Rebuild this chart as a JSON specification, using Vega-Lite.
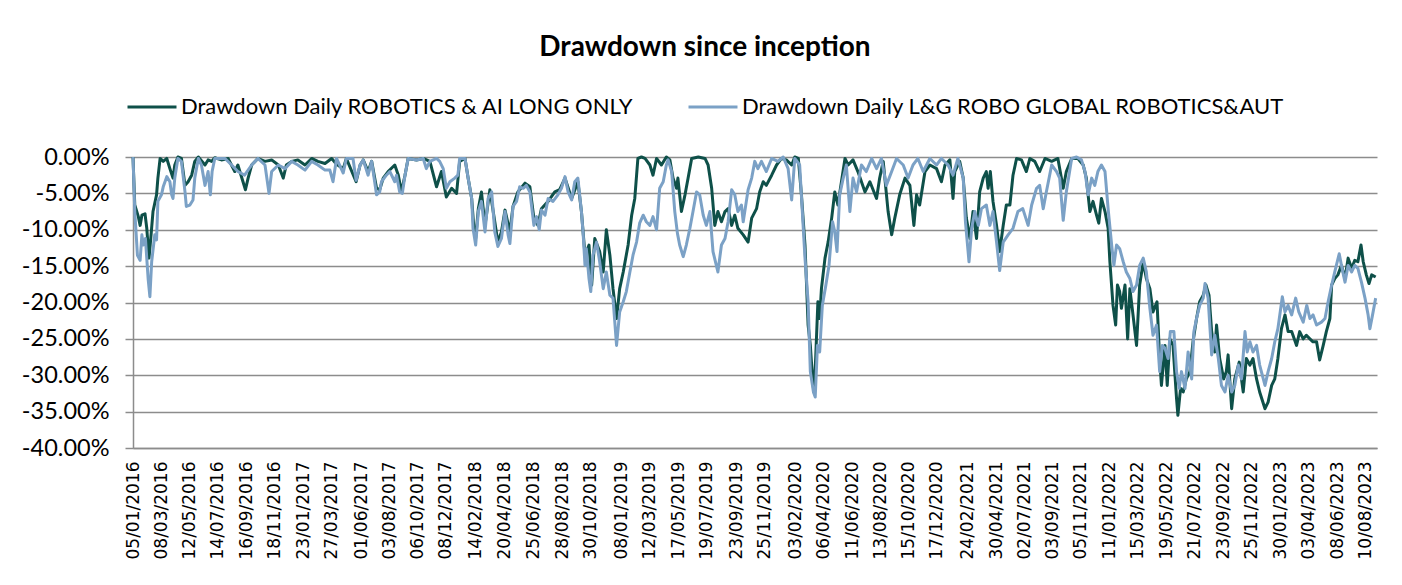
{
"$schema": "https://vega.github.io/schema/vega-lite/v6.json",
"width": 1244, "height": 291,
"autosize": {"type": "none"},
"padding": {"left": 133, "top": 157, "right": 25, "bottom": 137},
"background": "white",
"title": {"text": "Drawdown since inception", "font": "Lato", "fontSize": 28, "fontWeight": "bold", "color": "black", "anchor": "middle", "dx": -50, "offset": 19},
"datasets": {
"a": [
{"d":"2016-01-05","v":0},{"d":"2016-01-09","v":-0.066},{"d":"2016-01-17","v":-0.082},{"d":"2016-01-21","v":-0.094},{"d":"2016-01-25","v":-0.080},{"d":"2016-02-01","v":-0.078},{"d":"2016-02-05","v":-0.098},{"d":"2016-02-10","v":-0.139},{"d":"2016-02-14","v":-0.112},{"d":"2016-02-19","v":-0.075},{"d":"2016-02-27","v":-0.052},{"d":"2016-03-01","v":-0.029},{"d":"2016-03-06","v":-0.002},{"d":"2016-03-13","v":-0.006},{"d":"2016-03-21","v":-0.002},{"d":"2016-03-28","v":-0.016},{"d":"2016-04-04","v":-0.029},{"d":"2016-04-08","v":-0.011},{"d":"2016-04-15","v":0},{"d":"2016-04-23","v":-0.002},{"d":"2016-05-01","v":-0.039},{"d":"2016-05-08","v":-0.034},{"d":"2016-05-16","v":-0.025},{"d":"2016-05-23","v":-0.006},{"d":"2016-05-31","v":0},{"d":"2016-06-15","v":-0.011},{"d":"2016-06-22","v":-0.004},{"d":"2016-06-30","v":-0.006},{"d":"2016-07-07","v":-0.001},{"d":"2016-07-22","v":-0.004},{"d":"2016-08-06","v":-0.002},{"d":"2016-08-21","v":-0.020},{"d":"2016-08-28","v":-0.011},{"d":"2016-09-14","v":-0.045},{"d":"2016-09-20","v":-0.029},{"d":"2016-09-28","v":-0.011},{"d":"2016-10-12","v":-0.002},{"d":"2016-10-28","v":-0.006},{"d":"2016-11-12","v":-0.004},{"d":"2016-11-27","v":-0.011},{"d":"2016-12-08","v":-0.029},{"d":"2016-12-15","v":-0.011},{"d":"2016-12-27","v":-0.006},{"d":"2017-01-10","v":-0.004},{"d":"2017-01-26","v":-0.011},{"d":"2017-02-10","v":-0.002},{"d":"2017-02-24","v":-0.006},{"d":"2017-03-12","v":-0.009},{"d":"2017-03-27","v":-0.002},{"d":"2017-04-07","v":-0.010},{"d":"2017-04-22","v":-0.016},{"d":"2017-04-29","v":-0.002},{"d":"2017-05-21","v":-0.034},{"d":"2017-05-30","v":-0.011},{"d":"2017-06-06","v":-0.004},{"d":"2017-06-17","v":-0.020},{"d":"2017-06-25","v":-0.006},{"d":"2017-07-06","v":-0.043},{"d":"2017-07-13","v":-0.045},{"d":"2017-07-21","v":-0.029},{"d":"2017-08-01","v":-0.020},{"d":"2017-08-16","v":-0.011},{"d":"2017-08-24","v":-0.025},{"d":"2017-08-31","v":-0.048},{"d":"2017-09-08","v":-0.025},{"d":"2017-09-15","v":-0.002},{"d":"2017-10-04","v":-0.004},{"d":"2017-10-19","v":-0.002},{"d":"2017-11-03","v":-0.006},{"d":"2017-11-18","v":-0.041},{"d":"2017-11-29","v":-0.020},{"d":"2017-12-10","v":-0.055},{"d":"2017-12-22","v":-0.043},{"d":"2018-01-02","v":-0.050},{"d":"2018-01-09","v":-0.006},{"d":"2018-01-21","v":-0.002},{"d":"2018-01-28","v":-0.029},{"d":"2018-02-05","v":-0.057},{"d":"2018-02-10","v":-0.098},{"d":"2018-02-14","v":-0.112},{"d":"2018-02-20","v":-0.071},{"d":"2018-02-27","v":-0.048},{"d":"2018-03-07","v":-0.094},{"d":"2018-03-18","v":-0.045},{"d":"2018-03-29","v":-0.089},{"d":"2018-04-05","v":-0.117},{"d":"2018-04-13","v":-0.103},{"d":"2018-04-21","v":-0.073},{"d":"2018-05-02","v":-0.103},{"d":"2018-05-09","v":-0.068},{"d":"2018-05-20","v":-0.048},{"d":"2018-06-05","v":-0.036},{"d":"2018-06-16","v":-0.041},{"d":"2018-06-25","v":-0.084},{"d":"2018-07-04","v":-0.094},{"d":"2018-07-12","v":-0.071},{"d":"2018-07-27","v":-0.061},{"d":"2018-08-11","v":-0.048},{"d":"2018-08-22","v":-0.045},{"d":"2018-09-03","v":-0.029},{"d":"2018-09-18","v":-0.057},{"d":"2018-10-02","v":-0.034},{"d":"2018-10-10","v":-0.075},{"d":"2018-10-18","v":-0.135},{"d":"2018-10-27","v":-0.121},{"d":"2018-11-02","v":-0.176},{"d":"2018-11-09","v":-0.112},{"d":"2018-11-20","v":-0.130},{"d":"2018-11-28","v":-0.158},{"d":"2018-12-05","v":-0.100},{"d":"2018-12-13","v":-0.135},{"d":"2018-12-20","v":-0.181},{"d":"2018-12-28","v":-0.222},{"d":"2019-01-04","v":-0.181},{"d":"2019-01-12","v":-0.158},{"d":"2019-01-23","v":-0.121},{"d":"2019-01-31","v":-0.080},{"d":"2019-02-07","v":-0.057},{"d":"2019-02-14","v":-0.002},{"d":"2019-02-22","v":0},{"d":"2019-03-02","v":-0.002},{"d":"2019-03-13","v":-0.011},{"d":"2019-03-20","v":-0.025},{"d":"2019-03-28","v":-0.002},{"d":"2019-04-08","v":-0.011},{"d":"2019-04-19","v":0},{"d":"2019-04-27","v":-0.004},{"d":"2019-05-04","v":-0.029},{"d":"2019-05-12","v":-0.043},{"d":"2019-05-15","v":-0.029},{"d":"2019-05-23","v":-0.075},{"d":"2019-05-31","v":-0.052},{"d":"2019-06-07","v":-0.029},{"d":"2019-06-15","v":-0.002},{"d":"2019-06-30","v":0},{"d":"2019-07-15","v":-0.002},{"d":"2019-07-22","v":-0.011},{"d":"2019-07-30","v":-0.043},{"d":"2019-08-06","v":-0.094},{"d":"2019-08-13","v":-0.075},{"d":"2019-08-21","v":-0.089},{"d":"2019-08-29","v":-0.075},{"d":"2019-09-05","v":-0.071},{"d":"2019-09-13","v":-0.094},{"d":"2019-09-20","v":-0.080},{"d":"2019-09-27","v":-0.098},{"d":"2019-10-09","v":-0.107},{"d":"2019-10-20","v":-0.117},{"d":"2019-10-28","v":-0.084},{"d":"2019-11-08","v":-0.071},{"d":"2019-11-15","v":-0.048},{"d":"2019-11-23","v":-0.034},{"d":"2019-11-30","v":-0.039},{"d":"2019-12-12","v":-0.025},{"d":"2019-12-23","v":-0.011},{"d":"2020-01-03","v":-0.002},{"d":"2020-01-14","v":-0.004},{"d":"2020-01-26","v":-0.011},{"d":"2020-02-02","v":0},{"d":"2020-02-10","v":-0.002},{"d":"2020-02-17","v":-0.052},{"d":"2020-02-25","v":-0.121},{"d":"2020-03-03","v":-0.231},{"d":"2020-03-08","v":-0.259},{"d":"2020-03-13","v":-0.305},{"d":"2020-03-16","v":-0.323},{"d":"2020-03-20","v":-0.277},{"d":"2020-03-25","v":-0.199},{"d":"2020-03-29","v":-0.222},{"d":"2020-04-02","v":-0.181},{"d":"2020-04-10","v":-0.139},{"d":"2020-04-17","v":-0.117},{"d":"2020-04-25","v":-0.084},{"d":"2020-05-02","v":-0.048},{"d":"2020-05-09","v":-0.066},{"d":"2020-05-17","v":-0.034},{"d":"2020-05-25","v":-0.002},{"d":"2020-06-01","v":-0.011},{"d":"2020-06-12","v":-0.004},{"d":"2020-06-23","v":-0.020},{"d":"2020-07-09","v":-0.048},{"d":"2020-07-20","v":-0.034},{"d":"2020-08-04","v":-0.057},{"d":"2020-08-11","v":-0.029},{"d":"2020-08-19","v":-0.006},{"d":"2020-08-30","v":-0.075},{"d":"2020-09-07","v":-0.107},{"d":"2020-09-14","v":-0.084},{"d":"2020-09-25","v":-0.052},{"d":"2020-10-07","v":-0.029},{"d":"2020-10-18","v":-0.039},{"d":"2020-10-27","v":-0.094},{"d":"2020-11-02","v":-0.052},{"d":"2020-11-09","v":-0.066},{"d":"2020-11-21","v":-0.020},{"d":"2020-12-02","v":-0.011},{"d":"2020-12-17","v":-0.016},{"d":"2020-12-28","v":-0.034},{"d":"2021-01-05","v":-0.011},{"d":"2021-01-16","v":-0.004},{"d":"2021-01-23","v":-0.057},{"d":"2021-01-27","v":-0.020},{"d":"2021-02-07","v":-0.006},{"d":"2021-02-15","v":-0.029},{"d":"2021-02-22","v":-0.084},{"d":"2021-03-02","v":-0.112},{"d":"2021-03-09","v":-0.075},{"d":"2021-03-17","v":-0.112},{"d":"2021-03-24","v":-0.048},{"d":"2021-04-01","v":-0.029},{"d":"2021-04-08","v":-0.020},{"d":"2021-04-12","v":-0.043},{"d":"2021-04-17","v":-0.020},{"d":"2021-04-23","v":-0.061},{"d":"2021-05-01","v":-0.094},{"d":"2021-05-08","v":-0.130},{"d":"2021-05-16","v":-0.094},{"d":"2021-05-23","v":-0.066},{"d":"2021-05-31","v":-0.066},{"d":"2021-06-07","v":-0.025},{"d":"2021-06-15","v":-0.002},{"d":"2021-06-26","v":-0.004},{"d":"2021-07-07","v":-0.020},{"d":"2021-07-15","v":-0.002},{"d":"2021-07-26","v":-0.006},{"d":"2021-08-06","v":-0.020},{"d":"2021-08-18","v":-0.002},{"d":"2021-09-02","v":-0.006},{"d":"2021-09-16","v":-0.002},{"d":"2021-09-28","v":-0.043},{"d":"2021-10-05","v":-0.020},{"d":"2021-10-17","v":-0.002},{"d":"2021-10-31","v":-0.002},{"d":"2021-11-12","v":-0.011},{"d":"2021-11-19","v":-0.029},{"d":"2021-11-27","v":-0.075},{"d":"2021-12-04","v":-0.061},{"d":"2021-12-12","v":-0.080},{"d":"2021-12-17","v":-0.091},{"d":"2021-12-23","v":-0.057},{"d":"2021-12-31","v":-0.075},{"d":"2022-01-07","v":-0.098},{"d":"2022-01-11","v":-0.144},{"d":"2022-01-18","v":-0.204},{"d":"2022-01-24","v":-0.231},{"d":"2022-01-28","v":-0.176},{"d":"2022-02-02","v":-0.185},{"d":"2022-02-06","v":-0.208},{"d":"2022-02-14","v":-0.176},{"d":"2022-02-20","v":-0.250},{"d":"2022-02-25","v":-0.181},{"d":"2022-03-04","v":-0.217},{"d":"2022-03-12","v":-0.259},{"d":"2022-03-19","v":-0.176},{"d":"2022-03-27","v":-0.144},{"d":"2022-04-03","v":-0.167},{"d":"2022-04-11","v":-0.181},{"d":"2022-04-18","v":-0.213},{"d":"2022-04-27","v":-0.199},{"d":"2022-05-03","v":-0.277},{"d":"2022-05-07","v":-0.314},{"d":"2022-05-15","v":-0.259},{"d":"2022-05-20","v":-0.314},{"d":"2022-05-26","v":-0.250},{"d":"2022-06-02","v":-0.259},{"d":"2022-06-10","v":-0.332},{"d":"2022-06-13","v":-0.355},{"d":"2022-06-19","v":-0.318},{"d":"2022-06-25","v":-0.323},{"d":"2022-07-02","v":-0.305},{"d":"2022-07-10","v":-0.295},{"d":"2022-07-17","v":-0.254},{"d":"2022-07-25","v":-0.222},{"d":"2022-08-01","v":-0.199},{"d":"2022-08-09","v":-0.190},{"d":"2022-08-15","v":-0.176},{"d":"2022-08-22","v":-0.190},{"d":"2022-08-28","v":-0.240},{"d":"2022-09-04","v":-0.268},{"d":"2022-09-08","v":-0.231},{"d":"2022-09-15","v":-0.277},{"d":"2022-09-24","v":-0.305},{"d":"2022-09-30","v":-0.295},{"d":"2022-10-04","v":-0.272},{"d":"2022-10-12","v":-0.346},{"d":"2022-10-19","v":-0.305},{"d":"2022-10-29","v":-0.282},{"d":"2022-11-07","v":-0.323},{"d":"2022-11-14","v":-0.277},{"d":"2022-11-22","v":-0.286},{"d":"2022-11-29","v":-0.277},{"d":"2022-12-07","v":-0.305},{"d":"2022-12-14","v":-0.323},{"d":"2022-12-26","v":-0.346},{"d":"2023-01-02","v":-0.337},{"d":"2023-01-10","v":-0.314},{"d":"2023-01-17","v":-0.305},{"d":"2023-01-24","v":-0.277},{"d":"2023-02-01","v":-0.236},{"d":"2023-02-09","v":-0.217},{"d":"2023-02-16","v":-0.240},{"d":"2023-02-24","v":-0.240},{"d":"2023-03-07","v":-0.259},{"d":"2023-03-14","v":-0.240},{"d":"2023-03-22","v":-0.250},{"d":"2023-03-29","v":-0.245},{"d":"2023-04-06","v":-0.250},{"d":"2023-04-13","v":-0.254},{"d":"2023-04-21","v":-0.254},{"d":"2023-04-28","v":-0.279},{"d":"2023-05-06","v":-0.259},{"d":"2023-05-13","v":-0.240},{"d":"2023-05-21","v":-0.222},{"d":"2023-05-25","v":-0.176},{"d":"2023-06-01","v":-0.167},{"d":"2023-06-08","v":-0.162},{"d":"2023-06-16","v":-0.149},{"d":"2023-06-24","v":-0.167},{"d":"2023-07-01","v":-0.139},{"d":"2023-07-09","v":-0.153},{"d":"2023-07-16","v":-0.142},{"d":"2023-07-23","v":-0.144},{"d":"2023-07-30","v":-0.121},{"d":"2023-08-04","v":-0.144},{"d":"2023-08-11","v":-0.162},{"d":"2023-08-17","v":-0.174},{"d":"2023-08-23","v":-0.162},{"d":"2023-09-01","v":-0.165}
],
"b": [
{"d":"2016-01-05","v":0},{"d":"2016-01-09","v":-0.075},{"d":"2016-01-15","v":-0.135},{"d":"2016-01-21","v":-0.142},{"d":"2016-01-25","v":-0.107},{"d":"2016-01-28","v":-0.121},{"d":"2016-02-02","v":-0.112},{"d":"2016-02-08","v":-0.167},{"d":"2016-02-12","v":-0.192},{"d":"2016-02-16","v":-0.144},{"d":"2016-02-23","v":-0.107},{"d":"2016-02-27","v":-0.114},{"d":"2016-03-01","v":-0.061},{"d":"2016-03-09","v":-0.052},{"d":"2016-03-13","v":-0.041},{"d":"2016-03-21","v":-0.027},{"d":"2016-03-28","v":-0.034},{"d":"2016-04-01","v":-0.052},{"d":"2016-04-04","v":-0.057},{"d":"2016-04-08","v":-0.029},{"d":"2016-04-15","v":-0.002},{"d":"2016-04-23","v":-0.006},{"d":"2016-05-01","v":-0.048},{"d":"2016-05-04","v":-0.068},{"d":"2016-05-12","v":-0.066},{"d":"2016-05-19","v":-0.059},{"d":"2016-05-23","v":-0.029},{"d":"2016-05-31","v":-0.002},{"d":"2016-06-07","v":-0.011},{"d":"2016-06-15","v":-0.039},{"d":"2016-06-22","v":-0.020},{"d":"2016-06-27","v":-0.052},{"d":"2016-07-01","v":-0.020},{"d":"2016-07-07","v":-0.002},{"d":"2016-07-30","v":-0.002},{"d":"2016-08-14","v":-0.011},{"d":"2016-08-28","v":-0.020},{"d":"2016-09-12","v":-0.025},{"d":"2016-09-28","v":-0.011},{"d":"2016-10-12","v":-0.002},{"d":"2016-10-28","v":-0.011},{"d":"2016-11-06","v":-0.050},{"d":"2016-11-12","v":-0.020},{"d":"2016-11-27","v":-0.011},{"d":"2016-12-12","v":-0.016},{"d":"2016-12-27","v":-0.006},{"d":"2017-01-10","v":-0.011},{"d":"2017-01-26","v":-0.018},{"d":"2017-02-10","v":-0.006},{"d":"2017-02-24","v":-0.011},{"d":"2017-03-12","v":-0.018},{"d":"2017-03-23","v":-0.018},{"d":"2017-03-30","v":-0.034},{"d":"2017-04-07","v":-0.002},{"d":"2017-04-22","v":-0.022},{"d":"2017-04-29","v":-0.002},{"d":"2017-05-14","v":-0.002},{"d":"2017-05-21","v":-0.032},{"d":"2017-05-30","v":-0.011},{"d":"2017-06-06","v":-0.004},{"d":"2017-06-17","v":-0.025},{"d":"2017-06-25","v":-0.006},{"d":"2017-07-06","v":-0.052},{"d":"2017-07-13","v":-0.048},{"d":"2017-07-17","v":-0.034},{"d":"2017-07-28","v":-0.025},{"d":"2017-08-05","v":-0.020},{"d":"2017-08-16","v":-0.034},{"d":"2017-08-20","v":-0.025},{"d":"2017-08-27","v":-0.048},{"d":"2017-09-02","v":-0.050},{"d":"2017-09-08","v":-0.025},{"d":"2017-09-15","v":-0.002},{"d":"2017-10-04","v":-0.004},{"d":"2017-10-19","v":-0.002},{"d":"2017-10-26","v":-0.016},{"d":"2017-11-03","v":-0.006},{"d":"2017-11-18","v":-0.002},{"d":"2017-11-25","v":-0.006},{"d":"2017-12-03","v":-0.016},{"d":"2017-12-10","v":-0.043},{"d":"2017-12-18","v":-0.034},{"d":"2017-12-29","v":-0.029},{"d":"2018-01-05","v":-0.025},{"d":"2018-01-09","v":-0.002},{"d":"2018-01-21","v":-0.002},{"d":"2018-01-28","v":-0.029},{"d":"2018-02-05","v":-0.057},{"d":"2018-02-08","v":-0.098},{"d":"2018-02-14","v":-0.121},{"d":"2018-02-20","v":-0.075},{"d":"2018-02-27","v":-0.061},{"d":"2018-03-07","v":-0.103},{"d":"2018-03-14","v":-0.057},{"d":"2018-03-22","v":-0.048},{"d":"2018-03-29","v":-0.103},{"d":"2018-04-05","v":-0.123},{"d":"2018-04-13","v":-0.112},{"d":"2018-04-21","v":-0.075},{"d":"2018-04-28","v":-0.107},{"d":"2018-05-02","v":-0.119},{"d":"2018-05-09","v":-0.068},{"d":"2018-05-17","v":-0.061},{"d":"2018-05-24","v":-0.041},{"d":"2018-06-01","v":-0.043},{"d":"2018-06-08","v":-0.039},{"d":"2018-06-16","v":-0.048},{"d":"2018-06-25","v":-0.094},{"d":"2018-07-01","v":-0.082},{"d":"2018-07-07","v":-0.100},{"d":"2018-07-12","v":-0.073},{"d":"2018-07-20","v":-0.080},{"d":"2018-07-27","v":-0.057},{"d":"2018-08-07","v":-0.061},{"d":"2018-08-18","v":-0.052},{"d":"2018-08-26","v":-0.043},{"d":"2018-09-03","v":-0.027},{"d":"2018-09-10","v":-0.048},{"d":"2018-09-18","v":-0.059},{"d":"2018-09-25","v":-0.034},{"d":"2018-10-02","v":-0.029},{"d":"2018-10-10","v":-0.075},{"d":"2018-10-14","v":-0.107},{"d":"2018-10-18","v":-0.149},{"d":"2018-10-21","v":-0.126},{"d":"2018-10-27","v":-0.167},{"d":"2018-10-31","v":-0.185},{"d":"2018-11-05","v":-0.135},{"d":"2018-11-13","v":-0.117},{"d":"2018-11-20","v":-0.144},{"d":"2018-11-28","v":-0.181},{"d":"2018-12-05","v":-0.158},{"d":"2018-12-13","v":-0.190},{"d":"2018-12-20","v":-0.194},{"d":"2018-12-28","v":-0.259},{"d":"2019-01-04","v":-0.213},{"d":"2019-01-12","v":-0.199},{"d":"2019-01-19","v":-0.185},{"d":"2019-01-27","v":-0.158},{"d":"2019-02-03","v":-0.135},{"d":"2019-02-11","v":-0.117},{"d":"2019-02-18","v":-0.091},{"d":"2019-02-26","v":-0.080},{"d":"2019-03-05","v":-0.089},{"d":"2019-03-13","v":-0.094},{"d":"2019-03-20","v":-0.082},{"d":"2019-03-28","v":-0.100},{"d":"2019-04-04","v":-0.043},{"d":"2019-04-12","v":-0.034},{"d":"2019-04-19","v":-0.011},{"d":"2019-04-23","v":-0.004},{"d":"2019-05-01","v":-0.020},{"d":"2019-05-08","v":-0.075},{"d":"2019-05-14","v":-0.105},{"d":"2019-05-19","v":-0.121},{"d":"2019-05-27","v":-0.137},{"d":"2019-06-03","v":-0.121},{"d":"2019-06-11","v":-0.098},{"d":"2019-06-18","v":-0.075},{"d":"2019-06-26","v":-0.048},{"d":"2019-07-03","v":-0.052},{"d":"2019-07-11","v":-0.080},{"d":"2019-07-18","v":-0.094},{"d":"2019-07-26","v":-0.075},{"d":"2019-08-02","v":-0.130},{"d":"2019-08-13","v":-0.158},{"d":"2019-08-21","v":-0.121},{"d":"2019-08-29","v":-0.112},{"d":"2019-09-05","v":-0.089},{"d":"2019-09-13","v":-0.045},{"d":"2019-09-20","v":-0.052},{"d":"2019-09-27","v":-0.075},{"d":"2019-10-05","v":-0.066},{"d":"2019-10-09","v":-0.089},{"d":"2019-10-16","v":-0.061},{"d":"2019-10-20","v":-0.045},{"d":"2019-10-28","v":-0.029},{"d":"2019-11-04","v":-0.006},{"d":"2019-11-11","v":-0.016},{"d":"2019-11-19","v":-0.006},{"d":"2019-11-30","v":-0.020},{"d":"2019-12-12","v":-0.002},{"d":"2019-12-26","v":-0.006},{"d":"2020-01-07","v":0},{"d":"2020-01-18","v":-0.016},{"d":"2020-01-26","v":-0.059},{"d":"2020-02-02","v":-0.002},{"d":"2020-02-13","v":-0.011},{"d":"2020-02-19","v":-0.075},{"d":"2020-02-25","v":-0.139},{"d":"2020-03-03","v":-0.199},{"d":"2020-03-08","v":-0.295},{"d":"2020-03-15","v":-0.323},{"d":"2020-03-19","v":-0.330},{"d":"2020-03-24","v":-0.259},{"d":"2020-03-29","v":-0.268},{"d":"2020-04-04","v":-0.204},{"d":"2020-04-12","v":-0.176},{"d":"2020-04-19","v":-0.149},{"d":"2020-04-27","v":-0.089},{"d":"2020-05-02","v":-0.103},{"d":"2020-05-07","v":-0.130},{"d":"2020-05-13","v":-0.052},{"d":"2020-05-21","v":-0.029},{"d":"2020-05-28","v":-0.011},{"d":"2020-06-05","v":-0.075},{"d":"2020-06-12","v":-0.029},{"d":"2020-06-20","v":-0.048},{"d":"2020-07-01","v":-0.011},{"d":"2020-07-12","v":-0.020},{"d":"2020-07-24","v":-0.002},{"d":"2020-08-04","v":-0.016},{"d":"2020-08-15","v":-0.002},{"d":"2020-08-26","v":-0.039},{"d":"2020-09-07","v":-0.020},{"d":"2020-09-18","v":-0.002},{"d":"2020-10-03","v":-0.011},{"d":"2020-10-14","v":-0.029},{"d":"2020-10-25","v":-0.011},{"d":"2020-11-05","v":-0.002},{"d":"2020-11-17","v":-0.020},{"d":"2020-12-02","v":-0.002},{"d":"2020-12-17","v":-0.011},{"d":"2020-12-28","v":-0.002},{"d":"2021-01-12","v":-0.011},{"d":"2021-01-23","v":-0.025},{"d":"2021-02-03","v":-0.002},{"d":"2021-02-15","v":-0.029},{"d":"2021-02-20","v":-0.089},{"d":"2021-02-28","v":-0.144},{"d":"2021-03-06","v":-0.098},{"d":"2021-03-13","v":-0.075},{"d":"2021-03-21","v":-0.094},{"d":"2021-03-28","v":-0.071},{"d":"2021-04-08","v":-0.066},{"d":"2021-04-16","v":-0.094},{"d":"2021-04-23","v":-0.075},{"d":"2021-05-01","v":-0.117},{"d":"2021-05-08","v":-0.156},{"d":"2021-05-16","v":-0.117},{"d":"2021-05-27","v":-0.107},{"d":"2021-06-07","v":-0.098},{"d":"2021-06-18","v":-0.075},{"d":"2021-06-29","v":-0.071},{"d":"2021-07-11","v":-0.094},{"d":"2021-07-19","v":-0.066},{"d":"2021-07-30","v":-0.043},{"d":"2021-08-06","v":-0.039},{"d":"2021-08-14","v":-0.071},{"d":"2021-08-21","v":-0.048},{"d":"2021-09-02","v":-0.011},{"d":"2021-09-13","v":-0.020},{"d":"2021-09-20","v":-0.029},{"d":"2021-09-28","v":-0.087},{"d":"2021-10-05","v":-0.048},{"d":"2021-10-17","v":-0.002},{"d":"2021-10-28","v":0},{"d":"2021-11-08","v":-0.004},{"d":"2021-11-16","v":-0.020},{"d":"2021-11-23","v":-0.052},{"d":"2021-12-01","v":-0.029},{"d":"2021-12-08","v":-0.039},{"d":"2021-12-15","v":-0.020},{"d":"2021-12-23","v":-0.011},{"d":"2021-12-31","v":-0.020},{"d":"2022-01-07","v":-0.071},{"d":"2022-01-15","v":-0.121},{"d":"2022-01-20","v":-0.149},{"d":"2022-01-26","v":-0.121},{"d":"2022-02-02","v":-0.126},{"d":"2022-02-10","v":-0.144},{"d":"2022-02-17","v":-0.158},{"d":"2022-02-25","v":-0.167},{"d":"2022-03-04","v":-0.185},{"d":"2022-03-12","v":-0.176},{"d":"2022-03-19","v":-0.149},{"d":"2022-03-27","v":-0.139},{"d":"2022-04-03","v":-0.158},{"d":"2022-04-11","v":-0.208},{"d":"2022-04-18","v":-0.245},{"d":"2022-04-26","v":-0.231},{"d":"2022-05-03","v":-0.295},{"d":"2022-05-09","v":-0.259},{"d":"2022-05-15","v":-0.263},{"d":"2022-05-22","v":-0.277},{"d":"2022-05-27","v":-0.240},{"d":"2022-06-04","v":-0.240},{"d":"2022-06-10","v":-0.295},{"d":"2022-06-16","v":-0.318},{"d":"2022-06-21","v":-0.295},{"d":"2022-06-29","v":-0.318},{"d":"2022-07-06","v":-0.268},{"d":"2022-07-14","v":-0.305},{"d":"2022-07-19","v":-0.240},{"d":"2022-07-25","v":-0.222},{"d":"2022-08-01","v":-0.204},{"d":"2022-08-09","v":-0.194},{"d":"2022-08-13","v":-0.174},{"d":"2022-08-20","v":-0.194},{"d":"2022-08-28","v":-0.272},{"d":"2022-09-04","v":-0.245},{"d":"2022-09-12","v":-0.277},{"d":"2022-09-19","v":-0.314},{"d":"2022-09-27","v":-0.323},{"d":"2022-10-04","v":-0.300},{"d":"2022-10-12","v":-0.323},{"d":"2022-10-19","v":-0.314},{"d":"2022-10-27","v":-0.286},{"d":"2022-11-03","v":-0.305},{"d":"2022-11-11","v":-0.240},{"d":"2022-11-16","v":-0.268},{"d":"2022-11-22","v":-0.254},{"d":"2022-11-29","v":-0.268},{"d":"2022-12-07","v":-0.259},{"d":"2022-12-14","v":-0.286},{"d":"2022-12-26","v":-0.314},{"d":"2023-01-02","v":-0.295},{"d":"2023-01-10","v":-0.277},{"d":"2023-01-17","v":-0.254},{"d":"2023-01-24","v":-0.236},{"d":"2023-02-03","v":-0.192},{"d":"2023-02-09","v":-0.213},{"d":"2023-02-16","v":-0.204},{"d":"2023-02-24","v":-0.217},{"d":"2023-03-05","v":-0.194},{"d":"2023-03-12","v":-0.213},{"d":"2023-03-22","v":-0.227},{"d":"2023-03-30","v":-0.204},{"d":"2023-04-06","v":-0.222},{"d":"2023-04-13","v":-0.217},{"d":"2023-04-21","v":-0.231},{"d":"2023-05-02","v":-0.227},{"d":"2023-05-10","v":-0.222},{"d":"2023-05-17","v":-0.199},{"d":"2023-05-25","v":-0.176},{"d":"2023-06-01","v":-0.158},{"d":"2023-06-11","v":-0.133},{"d":"2023-06-16","v":-0.149},{"d":"2023-06-24","v":-0.172},{"d":"2023-07-01","v":-0.149},{"d":"2023-07-09","v":-0.158},{"d":"2023-07-16","v":-0.149},{"d":"2023-07-23","v":-0.153},{"d":"2023-07-31","v":-0.172},{"d":"2023-08-08","v":-0.194},{"d":"2023-08-15","v":-0.217},{"d":"2023-08-19","v":-0.236},{"d":"2023-08-25","v":-0.217},{"d":"2023-09-01","v":-0.194}
]
},
"encoding": {
"x": {"field": "d", "type": "temporal",
 "scale": {"type": "utc", "domain": [{"year":2016,"month":1,"date":5,"utc":true},{"year":2023,"month":9,"date":4,"utc":true}]},
 "axis": {"title": null, "labelExpr": "utcFormat(datum.value, '%d/%m/%Y')", "labelAngle": 270, "labelFont": "DejaVu Sans", "labelFontSize": 17, "labelColor": "black", "ticks": false, "grid": false, "domainColor": "#8c8c8c", "domainWidth": 1.5, "labelPadding": 13, "labelOverlap": false, "labelBound": false, "labelFlush": false,
 "values": [
 {"year":2016,"month":1,"date":5,"utc":true},{"year":2016,"month":3,"date":8,"utc":true},{"year":2016,"month":5,"date":12,"utc":true},{"year":2016,"month":7,"date":14,"utc":true},{"year":2016,"month":9,"date":16,"utc":true},{"year":2016,"month":11,"date":18,"utc":true},
 {"year":2017,"month":1,"date":23,"utc":true},{"year":2017,"month":3,"date":27,"utc":true},{"year":2017,"month":6,"date":1,"utc":true},{"year":2017,"month":8,"date":3,"utc":true},{"year":2017,"month":10,"date":6,"utc":true},{"year":2017,"month":12,"date":8,"utc":true},
 {"year":2018,"month":2,"date":14,"utc":true},{"year":2018,"month":4,"date":20,"utc":true},{"year":2018,"month":6,"date":25,"utc":true},{"year":2018,"month":8,"date":28,"utc":true},{"year":2018,"month":10,"date":30,"utc":true},
 {"year":2019,"month":1,"date":8,"utc":true},{"year":2019,"month":3,"date":12,"utc":true},{"year":2019,"month":5,"date":17,"utc":true},{"year":2019,"month":7,"date":19,"utc":true},{"year":2019,"month":9,"date":23,"utc":true},{"year":2019,"month":11,"date":25,"utc":true},
 {"year":2020,"month":2,"date":3,"utc":true},{"year":2020,"month":4,"date":6,"utc":true},{"year":2020,"month":6,"date":11,"utc":true},{"year":2020,"month":8,"date":13,"utc":true},{"year":2020,"month":10,"date":15,"utc":true},{"year":2020,"month":12,"date":17,"utc":true},
 {"year":2021,"month":2,"date":24,"utc":true},{"year":2021,"month":4,"date":30,"utc":true},{"year":2021,"month":7,"date":2,"utc":true},{"year":2021,"month":9,"date":3,"utc":true},{"year":2021,"month":11,"date":5,"utc":true},
 {"year":2022,"month":1,"date":11,"utc":true},{"year":2022,"month":3,"date":15,"utc":true},{"year":2022,"month":5,"date":19,"utc":true},{"year":2022,"month":7,"date":21,"utc":true},{"year":2022,"month":9,"date":23,"utc":true},{"year":2022,"month":11,"date":25,"utc":true},
 {"year":2023,"month":1,"date":30,"utc":true},{"year":2023,"month":4,"date":3,"utc":true},{"year":2023,"month":6,"date":8,"utc":true},{"year":2023,"month":8,"date":10,"utc":true}
 ]}},
"y": {"field": "v", "type": "quantitative",
 "scale": {"domain": [-0.4, 0], "nice": false, "zero": false},
 "axis": {"title": null, "values": [0,-0.05,-0.1,-0.15,-0.2,-0.25,-0.3,-0.35,-0.4], "format": ".2%", "labelFont": "Lato", "labelFontSize": 23.5, "labelColor": "black", "tickSize": 8, "tickColor": "#8c8c8c", "tickWidth": 1.5, "domainColor": "#8c8c8c", "domainWidth": 1.5, "gridColor": "#8c8c8c", "gridWidth": 1.5, "gridOpacity": 1, "labelPadding": 16}}
},
"layer": [
{"data": {"name": "a"}, "mark": {"type": "line", "strokeWidth": 3, "strokeJoin": "round"},
 "encoding": {"color": {"datum": "Drawdown Daily ROBOTICS & AI LONG ONLY", "type": "nominal",
  "scale": {"domain": ["Drawdown Daily ROBOTICS & AI LONG ONLY", "Drawdown Daily L&G ROBO GLOBAL ROBOTICS&AUT"], "range": ["#0E5049", "#7BA1C6"]},
  "legend": {"orient": "none", "legendX": -7, "legendY": -76, "direction": "horizontal", "title": null, "symbolType": "stroke", "symbolSize": 2400, "symbolStrokeWidth": 3, "labelFont": "Lato", "labelFontSize": 22, "labelColor": "black", "columnPadding": 48, "labelOffset": 3, "labelLimit": 0}}}},
{"data": {"name": "b"}, "mark": {"type": "line", "strokeWidth": 3, "strokeJoin": "round"},
 "encoding": {"color": {"datum": "Drawdown Daily L&G ROBO GLOBAL ROBOTICS&AUT", "type": "nominal"}}}
],
"config": {
 "view": {"stroke": null},
 "locale": {"number": {"decimal": ".", "thousands": ",", "grouping": [3], "currency": ["$", ""], "minus": "-"}}
}
}
